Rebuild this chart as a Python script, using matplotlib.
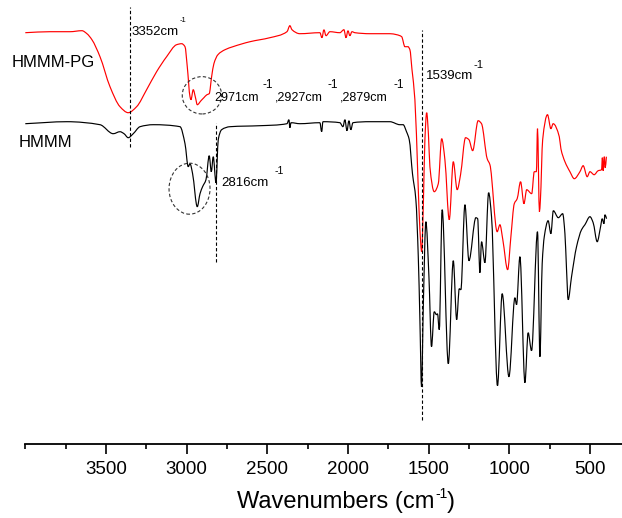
import matplotlib
matplotlib.use("Agg")
import numpy as np
import matplotlib.pyplot as plt
from matplotlib.patches import Ellipse, PathPatch
from matplotlib.path import Path
from matplotlib.ticker import MultipleLocator

plt.rcParams['font.family'] = ['Liberation Sans', 'DejaVu Sans']

# ---- data (wavenumber cm-1, transmittance in arbitrary offset units) ----
red_wn = [4000, 3847, 3723, 3649, 3618, 3587, 3537, 3475, 3413, 3362,
          3310, 3248, 3186, 3124, 3062, 3031, 3010, 2996, 2979, 2973,
          2959, 2945, 2934, 2911, 2893, 2874, 2860, 2845, 2831, 2806,
          2762, 2713, 2607, 2484, 2378, 2360, 2347, 2298, 2174, 2161,
          2149, 2136, 2112, 2050, 2025, 2012, 2000, 1988, 1975, 1957,
          1864, 1740, 1698, 1667, 1647, 1628, 1616, 1603, 1585, 1566,
          1554, 1543, 1532, 1523, 1512, 1501, 1492, 1465, 1440, 1419,
          1399, 1372, 1347, 1323, 1302, 1271, 1250, 1227, 1193, 1172,
          1137, 1120, 1075, 1058, 1040, 1010, 990, 969, 951, 930,
          909, 892, 861, 845, 832, 825, 813, 807, 793, 763,
          742, 728, 690, 680, 655, 624, 597, 562, 542, 517,
          500, 474, 449, 428, 423, 418, 411, 405, 398]
red_val = [411, 412, 412, 413, 410, 404, 387, 357, 337, 331,
           337, 354, 372, 387, 399, 400, 397, 377, 347, 344,
           354, 346, 339, 343, 346, 349, 350, 367, 380, 389,
           394, 397, 402, 406, 412, 418, 414, 410, 411, 406,
           414, 408, 412, 411, 414, 406, 413, 408, 412, 411,
           410, 410, 409, 407, 397, 397, 394, 374, 344, 264,
           214, 192, 244, 304, 331, 309, 277, 252, 260, 305,
           284, 224, 282, 254, 269, 306, 304, 293, 323, 320,
           285, 279, 212, 219, 204, 174, 207, 240, 245, 262,
           240, 254, 250, 272, 272, 315, 232, 244, 304, 329,
           315, 320, 307, 295, 282, 272, 265, 272, 278, 267,
           272, 269, 273, 274, 286, 273, 287, 276, 287]

blk_wn = [4000, 3742, 3537, 3455, 3413, 3388, 3362, 3331, 3289, 3207,
          3041, 3010, 2990, 2979, 2963, 2934, 2917, 2901, 2880, 2860,
          2847, 2835, 2818, 2804, 2783, 2731, 2546, 2378, 2366, 2360,
          2353, 2298, 2174, 2163, 2155, 2050, 2031, 2019, 2006, 1994,
          1982, 1969, 1864, 1740, 1678, 1658, 1637, 1620, 1600, 1579,
          1564, 1554, 1544, 1532, 1517, 1498, 1482, 1465, 1451, 1445,
          1434, 1416, 1378, 1347, 1326, 1310, 1300, 1275, 1250, 1207,
          1196, 1182, 1172, 1151, 1128, 1110, 1073, 1044, 1002, 965,
          955, 934, 903, 883, 862, 825, 810, 796, 783, 759,
          742, 727, 696, 669, 655, 645, 635, 614, 583, 552,
          531, 500, 480, 455, 434, 424, 413, 407, 397]
blk_val = [320, 322, 319, 310, 312, 310, 306, 310, 317, 319,
           317, 300, 277, 280, 270, 237, 250, 257, 264, 288,
           272, 287, 261, 304, 314, 317, 318, 320, 324, 316,
           321, 320, 321, 312, 322, 321, 317, 324, 313, 323,
           314, 321, 322, 322, 319, 319, 312, 304, 270, 244,
           187, 124, 57, 144, 222, 167, 97, 132, 129, 130,
           114, 234, 80, 183, 124, 155, 154, 239, 183, 226,
           225, 171, 202, 181, 251, 227, 58, 150, 67, 146,
           139, 187, 61, 111, 93, 212, 87, 180, 207, 223,
           210, 233, 226, 230, 210, 174, 144, 167, 197, 214,
           219, 227, 221, 202, 217, 225, 220, 229, 225]

xticks = [3500, 3000, 2500, 2000, 1500, 1000, 500]
marker_wn = [3352, 2816, 1539]


def smooth_path(xs, ys):
    """Monotone cubic (PCHIP-style) Bezier path through the given points."""
    x = np.asarray(xs, float)[::-1]
    y = np.asarray(ys, float)[::-1]
    h = np.diff(x)
    d = np.diff(y) / h
    m = np.zeros_like(y)
    m[0], m[-1] = d[0], d[-1]
    for k in range(1, len(y) - 1):
        if d[k - 1] * d[k] <= 0:
            m[k] = 0.0
        else:
            w1 = 2 * h[k] + h[k - 1]
            w2 = h[k] + 2 * h[k - 1]
            m[k] = (w1 + w2) / (w1 / d[k - 1] + w2 / d[k])
    verts = [(x[0], y[0])]
    codes = [Path.MOVETO]
    for i in range(len(h)):
        verts += [(x[i] + h[i] / 3, y[i] + m[i] * h[i] / 3),
                  (x[i + 1] - h[i] / 3, y[i + 1] - m[i + 1] * h[i] / 3),
                  (x[i + 1], y[i + 1])]
        codes += [Path.CURVE4] * 3
    return Path(verts, codes)


W, H = 622, 518
fig = plt.figure(figsize=(W / 100, H / 100), dpi=100)
ax = fig.add_axes([25.3 / W, (H - 443.7) / H, 596.9 / W, 443.7 / H])
ax.set_xlim(4000, 300)
ax.set_ylim(0, 443.7)

ax.add_patch(PathPatch(smooth_path(red_wn, red_val), fill=False, ec='#ff0000', lw=0.85))
ax.add_patch(PathPatch(smooth_path(blk_wn, blk_val), fill=False, ec='black', lw=0.85))

# dashed marker lines
dash = (0, (3, 2))
ax.plot([marker_wn[0]] * 2, [297, 437], color='black', lw=0.8, ls=dash)
ax.plot([marker_wn[1]] * 2, [182, 321], color='black', lw=0.8, ls=dash)
ax.plot([marker_wn[2]] * 2, [24, 414], color='black', lw=0.8, ls=dash)

# dashed circles
ax.add_patch(Ellipse((2905, 348.4), 244, 37.3, fill=False, ec='#333333', lw=0.8, ls=dash))
ax.add_patch(Ellipse((2982, 255), 254, 51, fill=False, ec='#333333', lw=0.8, ls=dash))

for s in ['left', 'right', 'top']:
    ax.spines[s].set_visible(False)
ax.spines['bottom'].set_linewidth(1.3)
ax.set_yticks([])
ax.set_xticks(xticks)
ax.xaxis.set_minor_locator(MultipleLocator(250))
ax.tick_params(axis='x', which='major', direction='out', length=7, width=1.2,
               labelsize=13.5, pad=5.5)
ax.tick_params(axis='x', which='minor', direction='out', length=3.6, width=1.2)


def ptext(xp, yp, s, size, color='black'):
    return fig.text(xp / W, 1 - yp / H, s, fontsize=size, ha='left', va='baseline', color=color)


ptext(11.7, 66.7, 'HMMM-PG', 12)
ptext(19, 146.7, 'HMMM', 12)

ptext(131, 34.7, '3352cm', 9.5)
ptext(180, 21.7, '-1', 5.5)

ptext(214, 100.7, '2971cm', 9)
ptext(262.7, 88.3, '-1', 8.5)
ptext(275, 100.7, ',2927cm', 9)
ptext(327.3, 88.3, '-1', 8.5)
ptext(340, 100.7, ',2879cm', 9)
ptext(393.3, 88.3, '-1', 8.5)

ptext(221.7, 185.7, '2816cm', 9.5)
ptext(275, 174.3, '-1', 7.5)

ptext(426, 79, '1539cm', 9.5)
ptext(473.3, 68.3, '-1', 8)

# x-axis title built from pieces (hyphen superscript like the original)
renderer = fig.canvas.get_renderer()
t1 = ptext(237, 508, 'Wavenumbers (cm', 17)
x1 = t1.get_window_extent(renderer).x1
t2 = fig.text(x1 / W + 0.5 / W, 1 - 498 / H, '-1', fontsize=10, ha='left', va='baseline')
x2 = t2.get_window_extent(renderer).x1
fig.text(x2 / W, 1 - 508 / H, ')', fontsize=17, ha='left', va='baseline')

fig.savefig('out.png', dpi=100)
